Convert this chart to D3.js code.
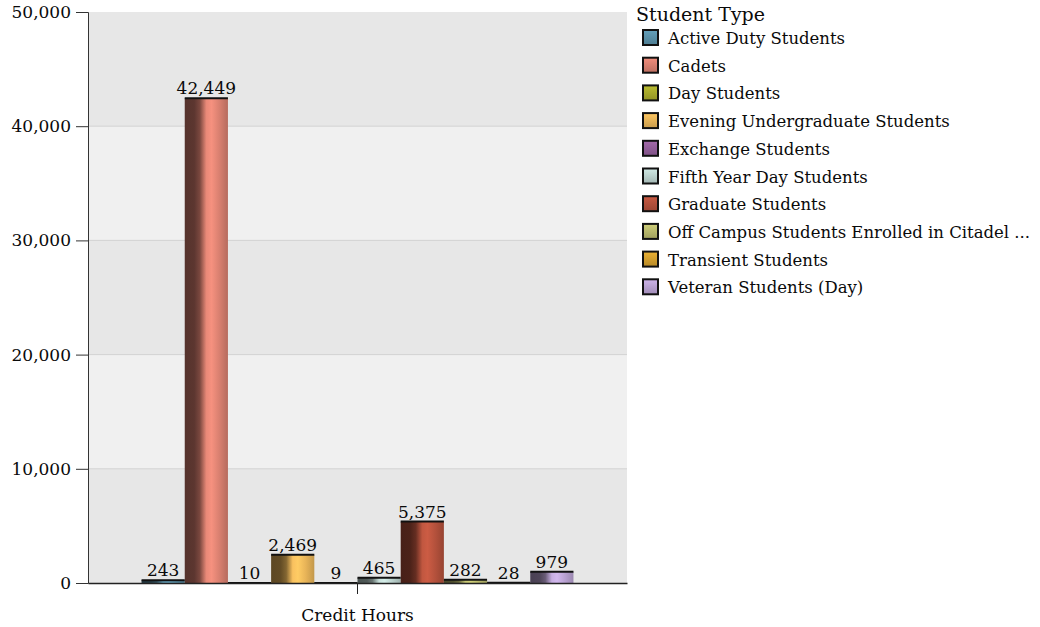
<!DOCTYPE html>
<html>
<head>
<meta charset="utf-8">
<script src="https://cdn.jsdelivr.net/npm/d3@7"></script>
<style>
  body { margin: 0; background: #fff; }
  text { font-family: "DejaVu Serif", serif; fill: #0a0a0a; }
</style>
</head>
<body>
<div id="chart"></div>
<script>
// Data
const categories = ["Credit Hours"];
const studentTypes = [
  "Active Duty Students", "Cadets", "Day Students", "Evening Undergraduate Students",
  "Exchange Students", "Fifth Year Day Students", "Graduate Students",
  "Off Campus Students Enrolled in Citadel ...", "Transient Students", "Veteran Students (Day)"
];
const creditHours = [243, 42449, 10, 2469, 9, 465, 5375, 282, 28, 979];
const typeColors = [
  "#5a90a8", "#d98070", "#a8aa2c", "#e8b458", "#935f9a",
  "#bcd2ce", "#b4513c", "#b9b96c", "#d39f2e", "#b9a2d2"
];
const yTicks = [0, 10000, 20000, 30000, 40000, 50000];

const width = 1040, height = 627;
const margin = { top: 12, right: 413, bottom: 44, left: 88 };
const plotW = width - margin.left - margin.right;
const plotH = height - margin.top - margin.bottom;

const svg = d3.select("#chart").append("svg")
  .attr("width", width)
  .attr("height", height);

const defs = svg.append("defs");

// cylinder-like shading for each bar, vertical shading for legend swatches
typeColors.forEach((c, i) => {
  const base = d3.color(c);
  const g = defs.append("linearGradient")
    .attr("id", "bar-grad-" + i)
    .attr("x1", "0%").attr("y1", "0%").attr("x2", "100%").attr("y2", "0%");
  [
    [0, base.darker(2.6)],
    [0.22, base.darker(2.4)],
    [0.35, base.darker(1.6)],
    [0.5, base.brighter(0.2)],
    [0.62, base.brighter(0.35)],
    [0.8, base],
    [1, base.darker(0.5)]
  ].forEach(([o, col]) => g.append("stop").attr("offset", o).attr("stop-color", col));

  const s = defs.append("linearGradient")
    .attr("id", "sw-grad-" + i)
    .attr("x1", "0%").attr("y1", "0%").attr("x2", "0%").attr("y2", "100%");
  s.append("stop").attr("offset", 0).attr("stop-color", base.brighter(0.3));
  s.append("stop").attr("offset", 1).attr("stop-color", base.darker(0.4));
});

const chart = svg.append("g")
  .attr("transform", `translate(${margin.left},${margin.top})`);

// Scales
const x0 = d3.scaleBand().domain(categories).range([0, plotW]).paddingInner(0).paddingOuter(0.124);
const x1 = d3.scaleBand().domain(studentTypes).range([0, x0.bandwidth()]).padding(0);
const y = d3.scaleLinear().domain([0, 50000]).range([plotH, 0]);

// Alternating background bands
const bands = d3.pairs(yTicks);
chart.selectAll(".band")
  .data(bands)
  .enter().append("rect")
  .attr("x", 0)
  .attr("width", plotW)
  .attr("y", d => y(d[1]))
  .attr("height", d => y(d[0]) - y(d[1]))
  .attr("fill", (d, i) => i % 2 === 0 ? "#e7e7e7" : "#f0f0f0");

// Grid lines
chart.selectAll(".grid")
  .data(yTicks.slice(1, -1))
  .enter().append("line")
  .attr("x1", 0).attr("x2", plotW)
  .attr("y1", d => y(d)).attr("y2", d => y(d))
  .attr("stroke", "#d2d2d2")
  .attr("stroke-width", 1);

// Bars
const group = chart.selectAll(".group")
  .data(categories)
  .enter().append("g")
  .attr("transform", d => `translate(${x0(d)},0)`);

const bars = studentTypes.map((t, i) => ({ type: t, value: creditHours[i], idx: i }));

group.selectAll(".bar")
  .data(bars)
  .enter().append("rect")
  .attr("x", d => x1(d.type))
  .attr("width", x1.bandwidth())
  .attr("y", d => y(d.value))
  .attr("height", d => plotH - y(d.value))
  .attr("fill", d => `url(#bar-grad-${d.idx})`);

group.selectAll(".bar-top")
  .data(bars)
  .enter().append("line")
  .attr("x1", d => x1(d.type))
  .attr("x2", d => x1(d.type) + x1.bandwidth())
  .attr("y1", d => y(d.value))
  .attr("y2", d => y(d.value))
  .attr("stroke", "#111")
  .attr("stroke-width", 2);

group.selectAll(".bar-label")
  .data(bars)
  .enter().append("text")
  .attr("x", d => x1(d.type) + x1.bandwidth() / 2)
  .attr("y", d => y(d.value) - 4)
  .attr("text-anchor", "middle")
  .style("font-size", "17px")
  .text(d => d3.format(",")(d.value));

// Axes
const yAxis = chart.append("g")
  .call(d3.axisLeft(y).tickValues(yTicks).tickFormat(d3.format(",")).tickSize(12).tickPadding(5));
yAxis.selectAll("text").style("font-size", "17px");
yAxis.selectAll("line, path").attr("stroke", "#333");

const xAxis = chart.append("g")
  .attr("transform", `translate(0,${plotH})`)
  .call(d3.axisBottom(x0).tickSize(11).tickSizeOuter(0).tickPadding(15));
xAxis.selectAll("text").style("font-size", "17px");
xAxis.selectAll("line, path").attr("stroke", "#222");
xAxis.select(".domain").attr("stroke-width", 1.5);

// Legend
const legend = svg.append("g").attr("transform", "translate(636,0)");
legend.append("text")
  .attr("x", 0).attr("y", 21)
  .style("font-size", "19px")
  .text("Student Type");

const item = legend.selectAll(".item")
  .data(studentTypes)
  .enter().append("g")
  .attr("transform", (d, i) => `translate(0,${30 + i * 27.7})`);

item.append("rect")
  .attr("x", 7).attr("y", 0)
  .attr("width", 15).attr("height", 15)
  .attr("fill", (d, i) => `url(#sw-grad-${i})`)
  .attr("stroke", "#111")
  .attr("stroke-width", 2);

item.append("text")
  .attr("x", 32).attr("y", 14)
  .style("font-size", "16.5px")
  .text(d => d);
</script>
</body>
</html>
